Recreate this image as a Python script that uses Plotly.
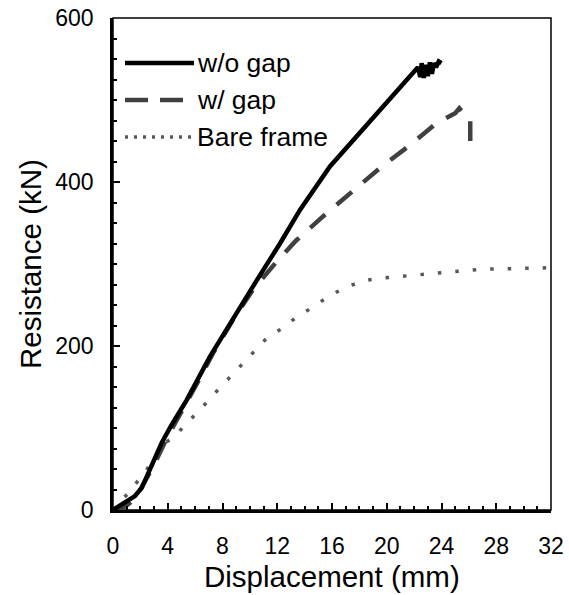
import plotly.graph_objects as go

# ---- data ----
wo_gap_x = [0, 0.5, 1.0, 1.6, 2.1, 2.7, 3.56, 4.29, 5.38, 7.08, 8.8, 10.5, 12.2, 13.66, 15.85, 18.0, 20.1, 21.3, 22.28,
            22.45, 22.55, 22.7, 22.85, 23.0, 23.15, 23.3, 23.45, 23.6, 23.8, 24.0]
wo_gap_y = [0, 5, 10, 17, 27, 49, 82, 104, 134, 187, 235, 280, 325, 366, 419, 460, 500, 521, 540,
            528, 545, 527, 543, 529, 546, 532, 545, 540, 547, 545]

w_gap_x = [0, 0.6, 1.2, 2.0, 3.0, 4.0, 6.0, 7.3, 8.77, 10.2, 11.96, 13.4, 15.34, 17.43, 19.5, 21.7, 23.64,
           25.0, 25.3, 25.5, 25.8, 26.1, 26.1]
w_gap_y = [0, 1, 8, 25, 55, 90, 150, 191, 232, 268, 303, 329, 358, 388, 417, 445, 472,
           484, 490, 486, 484, 478, 450]

bare_x = [0, 0.56, 1.12, 1.48, 1.92, 2.39, 2.75, 3.19, 3.68, 4.53, 4.9, 5.43, 6.1, 6.72, 7.08, 8.42, 9.4,
          10.25, 11.2, 12.3, 13.4, 13.9, 14.75, 15.9, 17.07, 18.4, 19.75, 21.0, 22.55, 24.1, 25.5, 26.8,
          28.3, 30.2, 32.0]
bare_y = [0, 12, 20, 29, 37, 47, 57, 65, 81, 89, 97, 106, 118, 129, 136, 160, 177,
          193, 209, 221, 235, 240, 249, 262, 272, 280, 283, 285, 287, 290, 292, 293.5,
          294, 295, 295.5]

series_names = ["w/o gap", "w/ gap", "Bare frame"]
x_ticks = list(range(0, 33, 4))
y_ticks = [0, 200, 400, 600]
x_title = "Displacement (mm)"
y_title = "Resistance (kN)"

FONT = "Liberation Sans, Arial, sans-serif"
C_SOLID = "#000000"
C_DASH = "#404040"
C_DOT = "#595959"

fig = go.Figure()
fig.add_trace(go.Scatter(x=bare_x, y=bare_y, mode="lines", name=series_names[2],
                         line=dict(color=C_DOT, width=3.5, dash="3.5px,14px"), showlegend=False))
fig.add_trace(go.Scatter(x=w_gap_x, y=w_gap_y, mode="lines", name=series_names[1],
                         line=dict(color=C_DASH, width=4.5, dash="20px,15px"), showlegend=False))
fig.add_trace(go.Scatter(x=wo_gap_x, y=wo_gap_y, mode="lines", name=series_names[0],
                         line=dict(color=C_SOLID, width=4.5), showlegend=False))

# layout geometry in window pixels (body margin removed via post_script)
L, R, T, B = 113, 551, 18, 510
W, H = 569, 595
def px(xp):
    return (xp - L) / (R - L)
def py(yp):
    return (B - yp) / (B - T)

legend_items = [
    (series_names[0], 63, dict(color=C_SOLID, width=4.5)),
    (series_names[1], 100, dict(color=C_DASH, width=4.5, dash="23px,12px")),
    (series_names[2], 137, dict(color=C_DOT, width=3.5, dash="3px,6px")),
]
shapes = []
annotations = []
for name, yp, ln in legend_items:
    shapes.append(dict(type="line", xref="paper", yref="paper", x0=px(125), x1=px(194), y0=py(yp), y1=py(yp), line=ln))
    annotations.append(dict(xref="paper", yref="paper", x=px(195), y=py(yp), text=name, showarrow=False,
                            xanchor="left", yanchor="middle", font=dict(family=FONT, size=26.5, color="#000")))

# axis titles
annotations.append(dict(xref="paper", yref="paper", x=0.5, y=py(576), text=x_title, showarrow=False,
                        xanchor="center", yanchor="middle", font=dict(family=FONT, size=29.5, color="#000")))
annotations.append(dict(xref="paper", yref="paper", x=px(30), y=0.5, text=y_title, showarrow=False, textangle=-90,
                        xanchor="center", yanchor="middle", font=dict(family=FONT, size=29.5, color="#000")))

# thin top/right frame
shapes.append(dict(type="rect", xref="paper", yref="paper", x0=0, x1=1, y0=0, y1=1,
                   line=dict(color="#000", width=1.5), layer="below"))

fig.update_layout(
    width=W, height=H,
    margin=dict(l=L, r=W - R, t=T, b=H - B, autoexpand=False),
    plot_bgcolor="white", paper_bgcolor="white",
    font=dict(family=FONT, color="#000"),
    shapes=shapes, annotations=annotations,
    xaxis=dict(range=[0, 32], tickvals=x_ticks, ticktext=[str(v) for v in x_ticks], automargin=False,
               ticks="inside", ticklen=7, tickwidth=2, tickcolor="#000", ticklabelstandoff=14,
               ticklabeloverflow="allow",
               minor=dict(dtick=1, ticks="inside", ticklen=4, tickwidth=1.5, tickcolor="#000"),
               showline=True, linecolor="#000", linewidth=2.5, showgrid=False, zeroline=False,
               tickfont=dict(size=23, family=FONT)),
    yaxis=dict(range=[0, 600], tickvals=y_ticks, ticktext=[str(v) for v in y_ticks], automargin=False,
               ticks="inside", ticklen=7, tickwidth=2, tickcolor="#000", ticklabelstandoff=12,
               ticklabeloverflow="allow",
               minor=dict(dtick=25, ticks="inside", ticklen=4, tickwidth=1.5, tickcolor="#000"),
               showline=True, linecolor="#000", linewidth=2.5, showgrid=False, zeroline=False,
               tickfont=dict(size=23, family=FONT)),
)

fig.write_html("out.html", config={"displayModeBar": False},
               post_script="document.body.style.margin='0';document.body.style.overflow='hidden';")
